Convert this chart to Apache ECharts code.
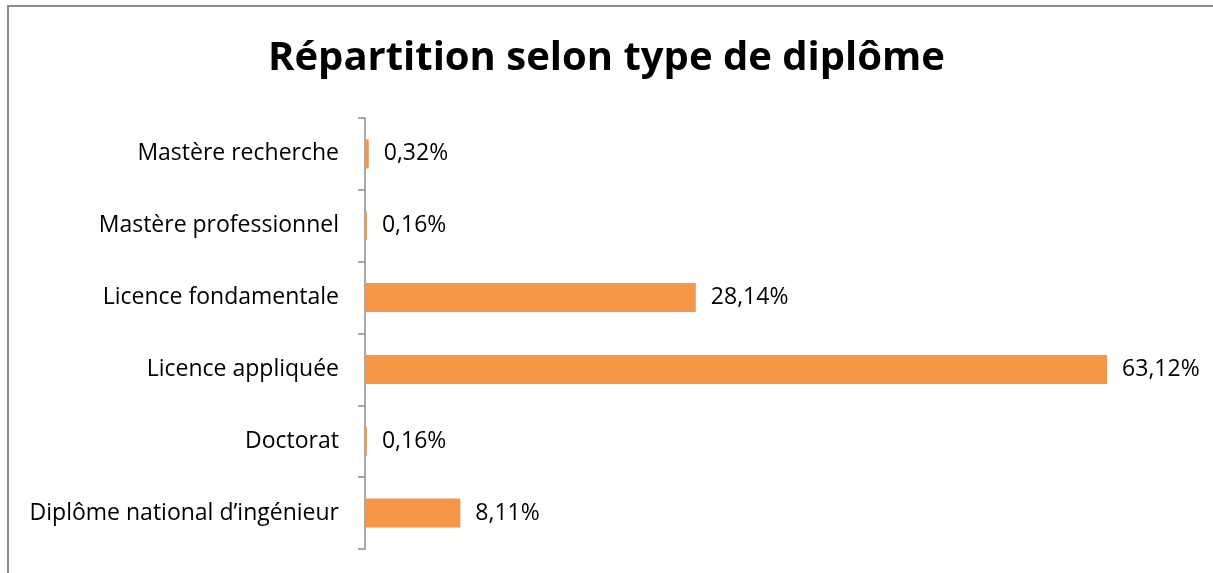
<!DOCTYPE html>
<html>
<head>
<meta charset="utf-8">
<script src="https://cdn.jsdelivr.net/npm/echarts@6/dist/echarts.min.js"></script>
<style>
  html, body { margin: 0; padding: 0; background: #fff; }
  #frame { position: absolute; left: 7px; top: 5px; width: 1300px; height: 700px;
           border-left: 2px solid #8c8c8c; border-top: 2px solid #8c8c8c; box-sizing: border-box; }
  #chart { position: absolute; left: 0; top: 0; width: 1213px; height: 573px; }
</style>
</head>
<body>
<div id="frame"></div>
<div id="chart"></div>
<script>
// bottom to top, as in the reference
const categories = [
    'Diplôme national d\u2019ingénieur',
    'Doctorat',
    'Licence appliquée',
    'Licence fondamentale',
    'Mastère professionnel',
    'Mastère recherche'
];
const shares = [8.11, 0.16, 63.12, 28.14, 0.16, 0.32];

const chart = echarts.init(document.getElementById('chart'));
const font = '"Open Sans", "Noto Sans", sans-serif';

chart.setOption({
    animation: false,
    title: {
        text: 'Répartition selon type de diplôme',
        left: 'center',
        top: 34,
        textStyle: { fontFamily: font, fontSize: 40, fontWeight: 'bold', color: '#000' }
    },
    grid: { left: 365, top: 118, bottom: 24, right: 25 },
    xAxis: {
        type: 'value',
        min: 0,
        max: 70,
        show: false
    },
    yAxis: {
        type: 'category',
        data: categories,
        axisLine: { show: true, lineStyle: { color: '#8c8c8c', width: 1.5 } },
        axisTick: { show: true, length: 7, lineStyle: { color: '#8c8c8c', width: 1.5 } },
        axisLabel: { margin: 26, padding: [4, 0, 0, 0], fontFamily: font, fontSize: 23, color: '#000' }
    },
    series: [
        {
            type: 'bar',
            data: shares,
            barWidth: 29,
            itemStyle: { color: '#f79646' },
            label: {
                show: true,
                position: 'right',
                distance: 15,
                padding: [4, 0, 0, 0],
                fontFamily: font,
                fontSize: 23,
                color: '#000',
                formatter: p => p.value.toFixed(2).replace('.', ',') + '%'
            }
        }
    ]
});
</script>
</body>
</html>
